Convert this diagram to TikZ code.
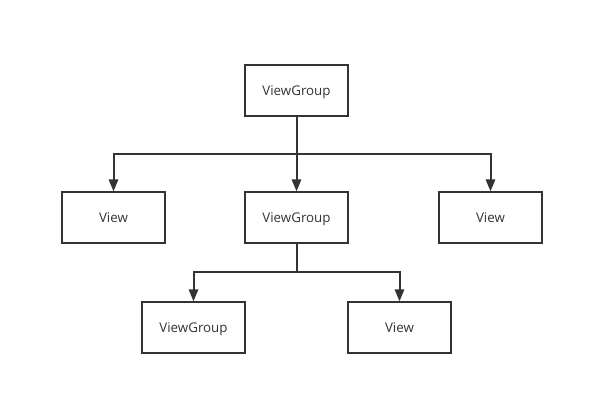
\documentclass[tikz,border=0pt]{standalone}
\usepackage{fontspec}
\setmainfont{Open Sans}
\usetikzlibrary{arrows.meta}

\begin{document}
\begin{tikzpicture}[x=0.75pt,y=-0.75pt]
        \tikzstyle{box}=[draw=black!80, line width=1.2pt, minimum width=77pt, minimum height=38pt, inner sep=0pt, text height=9pt, text depth=1pt, font=\fontsize{10}{12}\selectfont, text=black!80]
        \tikzstyle{link}=[draw=black!80, line width=1.5pt]
        \tikzstyle{arr}=[link, -{Triangle[length=9pt,width=7pt]}]
        \useasboundingbox (0,0) rectangle (604,415);
        % top level
        \node[box] (root) at (296.5,90.5) {ViewGroup};
        % second level
        \node[box] (view1) at (113.5,217.5) {View};
        \node[box] (group1) at (296.5,217.5) {ViewGroup};
        \node[box] (view2) at (490.5,217.5) {View};
        % third level
        \node[box] (group2) at (193.5,327.5) {ViewGroup};
        \node[box] (view3) at (399.5,327.5) {View};
        \coordinate (bus1) at (296.5,154);
        \coordinate (bus2) at (296.5,272);
        \draw [link] (root.south) -- (bus1);
        \draw [arr] (bus1) -| (view1);
        \draw [arr] (bus1) -- (group1);
        \draw [arr] (bus1) -| (view2);
        \draw [link] (group1.south) -- (bus2);
        \draw [arr] (bus2) -| (group2);
        \draw [arr] (bus2) -| (view3);
\end{tikzpicture}
\end{document}
